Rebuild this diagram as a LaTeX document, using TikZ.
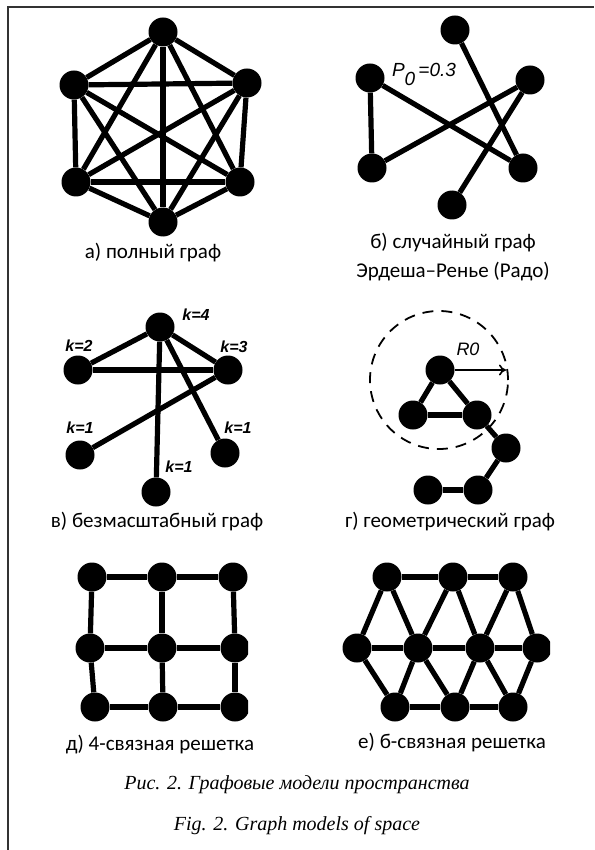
\documentclass[tikz,border=0pt]{standalone}
\usepackage{fontspec}
\setmainfont{Carlito}
\newfontfamily\capfont{Liberation Serif}
\newfontfamily\tagfont{Liberation Sans}
\usetikzlibrary{arrows.meta}

\begin{document}
\begin{tikzpicture}[x=1pt,y=-1pt,
  dot/.style={circle,fill=black,inner sep=0pt,minimum size=29pt},
  ed/.style={line width=5.2pt},
  subtext/.style={font=\fontsize{21}{24}\selectfont, anchor=base},
  tagtext/.style={font=\tagfont\bfseries\itshape\fontsize{16}{18}\selectfont, inner sep=0pt},
  captext/.style={font=\capfont\itshape\fontsize{20}{24}\selectfont, anchor=base}]
\useasboundingbox (0,0) rectangle (594,850);
\fill[white] (0,0) rectangle (594,850);
% frame
\draw[line width=2pt, black!80] (8,850) -- (8,7) -- (594,7);

% a) complete graph
\node[dot] (a1) at (163,32) {};
\node[dot] (a2) at (74,85) {};
\node[dot] (a3) at (247,83) {};
\node[dot] (a4) at (76,182) {};
\node[dot] (a5) at (240,182) {};
\node[dot] (a6) at (163,222) {};
\foreach \u/\v in {a1/a2,a1/a3,a1/a4,a1/a5,a1/a6,a2/a3,a2/a4,a2/a5,a2/a6,
                   a3/a4,a3/a5,a3/a6,a4/a5,a4/a6,a5/a6}
  \draw[ed] (\u) -- (\v);
\node[subtext] (la) at (153,258) {а) полный граф};

% b) random graph
\begin{scope}
\clip (300,0) rectangle (545,300);
\node[dot] (b1) at (455,30) {};
\node[dot] (b2) at (370,78) {};
\node[dot] (b3) at (530,80) {};
\node[dot] (b4) at (372,168) {};
\node[dot] (b5) at (523,168) {};
\node[dot] (b6) at (452,205) {};
\foreach \u/\v in {b2/b4,b2/b5,b4/b3,b1/b5,b3/b6}
  \draw[ed] (\u) -- (\v);
\end{scope}
\node[tagtext, font=\tagfont\itshape\fontsize{19}{20}\selectfont] (p0) at (424,74)
  {P\raisebox{-9pt}{0}\,=0.3};
\node[subtext] (lb1) at (453,248) {б) случайный граф};
\node[subtext] (lb2) at (453,277) {Эрдеша–Ренье (Радо)};

% c) scale-free graph
\node[dot] (c1) at (160,327) {};
\node[dot] (c2) at (78,370) {};
\node[dot] (c3) at (228,370) {};
\node[dot] (c4) at (80,455) {};
\node[dot] (c5) at (156,492) {};
\node[dot] (c6) at (225,453) {};
\foreach \u/\v in {c1/c2,c1/c3,c2/c3,c3/c4,c1/c5,c1/c6}
  \draw[ed] (\u) -- (\v);
\node[tagtext] (k4) at (196,315) {k=4};
\node[tagtext] (k2) at (79,346) {k=2};
\node[tagtext] (k3) at (234,347) {k=3};
\node[tagtext] (k1a) at (80,428) {k=1};
\node[tagtext] (k1b) at (238,428) {k=1};
\node[tagtext] (k1c) at (179,467) {k=1};
\node[subtext] (lc) at (157,527) {в) безмасштабный граф};

% d) geometric graph
\node[circle, draw, line width=1.8pt, dash pattern=on 11pt off 8pt,
      minimum size=138pt, inner sep=0pt] (range) at (439,380) {};
\node[dot] (d1) at (440,370) {};
\node[dot] (d2) at (413,415) {};
\node[dot] (d3) at (477,415) {};
\node[dot] (d4) at (506,448) {};
\node[dot] (d5) at (478,490) {};
\node[dot] (d6) at (428,490) {};
\foreach \u/\v in {d1/d2,d1/d3,d2/d3,d3/d4,d4/d5,d5/d6}
  \draw[ed] (\u) -- (\v);
\coordinate (rend) at (506,370);
\draw[line width=1.6pt, -{To[length=7pt,width=11pt]}] (d1) -- (rend);
\node[tagtext, font=\tagfont\itshape\fontsize{18}{20}\selectfont] (r0) at (468,349) {R0};
\node[subtext] (ld) at (450,527) {г) геометрический граф};

% e) square lattice
\begin{scope}
\clip (0,550) rectangle (248,730);
\node[dot] (g11) at (92,577) {};
\node[dot] (g12) at (162,577) {};
\node[dot] (g13) at (233,577) {};
\node[dot] (g21) at (90,648) {};
\node[dot] (g22) at (162,648) {};
\node[dot] (g23) at (235,648) {};
\node[dot] (g31) at (95,707) {};
\node[dot] (g32) at (163,707) {};
\node[dot] (g33) at (235,707) {};
\foreach \u/\v in {g11/g12,g12/g13,g21/g22,g22/g23,g31/g32,g32/g33,
                   g11/g21,g21/g31,g12/g22,g22/g32,g13/g23,g23/g33}
  \draw[ed] (\u) -- (\v);
\end{scope}
\node[subtext] (le) at (160,750) {д) 4-связная решетка};

% f) triangular lattice
\begin{scope}
\clip (300,550) rectangle (550,730);
\node[dot] (t1) at (387,577) {};
\node[dot] (t2) at (453,577) {};
\node[dot] (t3) at (513,577) {};
\node[dot] (m1) at (357,648) {};
\node[dot] (m2) at (418,648) {};
\node[dot] (m3) at (480,648) {};
\node[dot] (m4) at (537,648) {};
\node[dot] (s1) at (395,707) {};
\node[dot] (s2) at (455,707) {};
\node[dot] (s3) at (513,707) {};
\foreach \u/\v in {t1/t2,t2/t3,m1/m2,m2/m3,m3/m4,s1/s2,s2/s3,
                   t1/m1,t1/m2,t2/m2,t2/m3,t3/m3,t3/m4,
                   m1/s1,m2/s1,m2/s2,m3/s2,m3/s3,m4/s3}
  \draw[ed] (\u) -- (\v);
\end{scope}
\node[subtext] (lf) at (452,748) {е) б-связная решетка};

% caption
\node[captext] (cap1) at (297,789) {Рис. 2. Графовые модели пространства};
\node[captext] (cap2) at (297,830) {Fig. 2. Graph models of space};
\end{tikzpicture}
\end{document}
